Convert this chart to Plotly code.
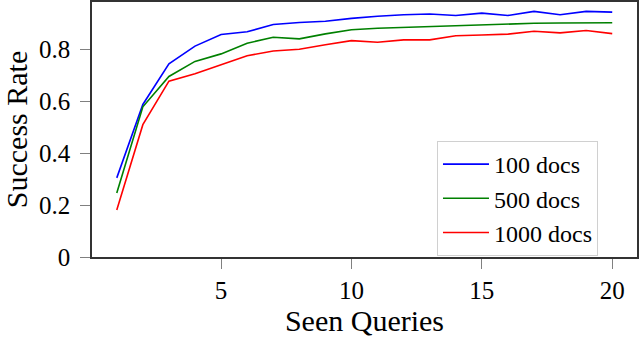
import plotly.graph_objects as go

queries = list(range(1, 21))
docs_100 = [0.305, 0.588, 0.745, 0.813, 0.858, 0.868, 0.896, 0.904, 0.909, 0.920,
            0.928, 0.934, 0.937, 0.931, 0.940, 0.931, 0.947, 0.934, 0.947, 0.944]
docs_500 = [0.247, 0.579, 0.696, 0.754, 0.783, 0.824, 0.847, 0.841, 0.860, 0.876,
            0.882, 0.885, 0.889, 0.892, 0.896, 0.898, 0.901, 0.902, 0.903, 0.903]
docs_1000 = [0.181, 0.510, 0.678, 0.706, 0.741, 0.776, 0.794, 0.801, 0.818, 0.834,
             0.828, 0.837, 0.837, 0.853, 0.856, 0.859, 0.870, 0.864, 0.873, 0.861]

names = ["100 docs", "500 docs", "1000 docs"]
colores = ["rgb(0,0,255)", "rgb(0,128,0)", "rgb(255,0,0)"]

fig = go.Figure()
for nombre, ys, c in zip(names, [docs_100, docs_500, docs_1000], colores):
    fig.add_trace(go.Scatter(x=queries, y=ys, mode="lines", name=nombre,
                             line=dict(color=c, width=1.6)))

font = "Liberation Serif"
fig.update_layout(
    width=640, height=337,
    margin=dict(l=92, r=3, t=2, b=80),
    paper_bgcolor="white", plot_bgcolor="white",
    font=dict(family=font, size=25, color="black"),
    legend=dict(x=0.633, y=0.455, xanchor="left", yanchor="top",
                bgcolor="white", bordercolor="#d0d0d0", borderwidth=1,
                font=dict(size=24), tracegroupgap=0, itemwidth=46),
)
fig.update_xaxes(range=[0.05, 20.95], tickvals=[5, 10, 15, 20],
                 ticks="outside", ticklen=10, tickcolor="#808080",
                 showgrid=False, zeroline=False, automargin=False,
                 showline=True, linecolor="#333333", linewidth=1.5, mirror=True,
                 title=dict(text="Seen Queries"))
fig.update_yaxes(range=[0, 0.983], tickvals=[0, 0.2, 0.4, 0.6, 0.8],
                 ticktext=["0", "0.2", "0.4", "0.6", "0.8"],
                 ticks="outside", ticklen=10, tickcolor="#808080",
                 showgrid=False, zeroline=False, automargin=False,
                 ticklabelstandoff=5,
                 showline=True, linecolor="#333333", linewidth=1.5, mirror=True,
                 title=dict(text="Success Rate"))

# quitar el margen por defecto del body
fig.write_html("out.html", config={"displayModeBar": False},
               post_script="document.body.style.margin='0';")
